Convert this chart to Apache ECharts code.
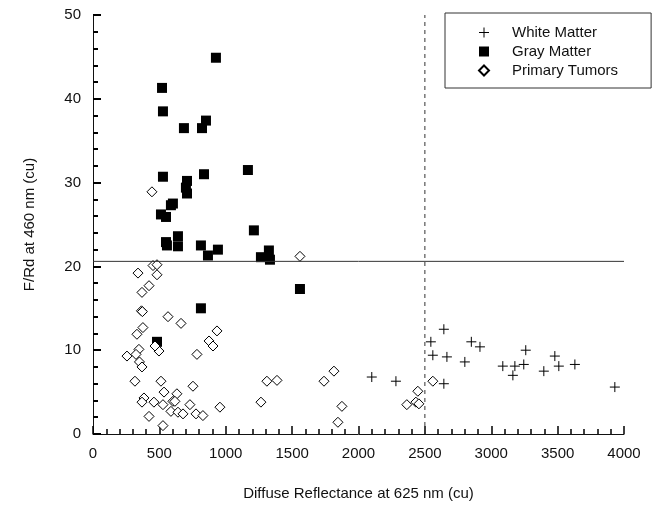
<!DOCTYPE html>
<html>
<head>
<meta charset="utf-8">
<script src="https://cdn.jsdelivr.net/npm/echarts@6/dist/echarts.min.js"></script>
<style>
  html, body { margin: 0; padding: 0; background: #fff; }
  #chart { width: 655px; height: 506px; }
</style>
</head>
<body>
<div id="chart"></div>
<script>
// [diffuse reflectance at 625 nm, F/Rd at 460 nm]
const whiteMatter = [
  [2100, 6.8], [2282, 6.3], [2545, 11.0], [2643, 12.5], [2560, 9.4], [2666, 9.2],
  [2643, 6.0], [2801, 8.6], [2850, 11.0], [2915, 10.4], [3087, 8.1], [3178, 8.1],
  [3163, 7.0], [3245, 8.3], [3260, 10.0], [3396, 7.5], [3479, 9.3], [3509, 8.1],
  [3630, 8.3], [3931, 5.6]
]
const grayMatter = [
  [926, 44.9], [520, 41.3], [527, 38.5], [851, 37.4], [685, 36.5], [821, 36.5],
  [527, 30.7], [708, 30.2], [836, 31.0], [1167, 31.5], [700, 29.4], [708, 28.7],
  [512, 26.2], [550, 25.9], [587, 27.3], [602, 27.5], [550, 22.9], [557, 22.5],
  [640, 23.6], [640, 22.4], [813, 22.5], [866, 21.3], [941, 22.0], [1212, 24.3],
  [1265, 21.1], [1325, 21.9], [1333, 20.8], [813, 15.0], [482, 11.0], [1559, 17.3]
]
const primaryTumors = [
  [444, 28.9], [452, 20.1], [482, 20.2], [1559, 21.2], [339, 19.2], [482, 19.0],
  [422, 17.7], [369, 16.9], [365, 14.7], [372, 14.6], [565, 14.0], [663, 13.2],
  [376, 12.7], [331, 11.9], [934, 12.3], [874, 11.1], [904, 10.5], [346, 10.1],
  [497, 9.9], [467, 10.5], [256, 9.3], [324, 9.5], [350, 8.6], [369, 8.0],
  [783, 9.5], [316, 6.3], [512, 6.3], [753, 5.7], [535, 5.0], [632, 4.8],
  [384, 4.3], [369, 3.8], [459, 3.8], [527, 3.5], [602, 3.9], [617, 3.9],
  [587, 2.7], [640, 2.6], [678, 2.4], [776, 2.4], [828, 2.2], [422, 2.1],
  [527, 1.0], [956, 3.2], [730, 3.5], [1310, 6.3], [1386, 6.4], [1265, 3.8],
  [1815, 7.5], [1740, 6.3], [1875, 3.3], [1845, 1.4], [2447, 5.1], [2364, 3.5],
  [2432, 3.8], [2455, 3.6], [2560, 6.3]
]
const xRange = [0, 4000]
const yRange = [0, 50]
const thresholdY = 20.6
const thresholdX = 2500

const font = 'Liberation Sans, Arial, sans-serif'
const crossPath = 'path://M0,5L10,5M5,0L5,10'

const chart = echarts.init(document.getElementById('chart'))
chart.setOption({
  animation: false,
  grid: { left: 93, right: 31, top: 15, bottom: 71 },
  legend: {
    orient: 'vertical',
    left: 445,
    top: 13,
    padding: [12, 33, 10, 33],
    itemGap: 4,
    itemWidth: 10,
    itemHeight: 10,
    borderColor: '#333',
    borderWidth: 1,
    textStyle: { fontFamily: font, fontSize: 15, color: '#111', padding: [0, 0, 0, 18] },
    data: [
      { name: 'White Matter', icon: crossPath, itemStyle: { color: 'transparent', borderColor: '#000', borderWidth: 1, opacity: 1 } },
      { name: 'Gray Matter', icon: 'rect' },
      { name: 'Primary Tumors', icon: 'diamond' }
    ]
  },
  xAxis: {
    type: 'value',
    min: xRange[0], max: xRange[1], interval: 500,
    name: 'Diffuse Reflectance at 625 nm (cu)',
    nameLocation: 'middle',
    nameGap: 52,
    nameTextStyle: { fontFamily: font, fontSize: 15, color: '#111' },
    axisLine: { show: true, lineStyle: { color: '#111' } },
    axisTick: { show: true, inside: true, length: 8, lineStyle: { color: '#000', width: 1.5 } },
    minorTick: { show: true, splitNumber: 5, length: 5, lineStyle: { color: '#000', width: 1.5 } },
    axisLabel: { fontFamily: font, fontSize: 15, color: '#111', margin: 12, formatter: v => String(v) },
    splitLine: { show: false }
  },
  yAxis: {
    type: 'value',
    min: yRange[0], max: yRange[1], interval: 10,
    name: 'F/Rd at 460 nm (cu)',
    nameLocation: 'middle',
    nameGap: 56,
    nameTextStyle: { fontFamily: font, fontSize: 15, color: '#111' },
    axisLine: { show: true, lineStyle: { color: '#111' } },
    axisTick: { show: true, inside: true, length: 8, lineStyle: { color: '#000', width: 2 } },
    minorTick: { show: true, splitNumber: 5, length: 5, lineStyle: { color: '#000', width: 2 } },
    axisLabel: { fontFamily: font, fontSize: 15, color: '#111', margin: 12 },
    splitLine: { show: false }
  },
  series: [
    {
      name: 'cutoff F/Rd',
      type: 'line',
      silent: true,
      symbol: 'none',
      lineStyle: { color: '#333', width: 1 },
      data: [[xRange[0], thresholdY], [xRange[1], thresholdY]]
    },
    {
      name: 'cutoff Rd',
      type: 'line',
      silent: true,
      symbol: 'none',
      lineStyle: { color: '#333', width: 1, type: [4, 4] },
      data: [[thresholdX, yRange[0]], [thresholdX, yRange[1]]]
    },
    {
      name: 'White Matter',
      type: 'scatter',
      symbol: crossPath,
      symbolSize: 10,
      itemStyle: { color: 'transparent', borderColor: '#000', borderWidth: 1, opacity: 1 },
      data: whiteMatter
    },
    {
      name: 'Gray Matter',
      type: 'scatter',
      symbol: 'rect',
      symbolSize: 10,
      itemStyle: { color: '#000', opacity: 1 },
      data: grayMatter
    },
    {
      name: 'Primary Tumors',
      type: 'scatter',
      symbol: 'diamond',
      symbolSize: [10, 10],
      itemStyle: { color: '#fff', borderColor: '#000', borderWidth: 1, opacity: 1 },
      data: primaryTumors
    }
  ]
})
</script>
</body>
</html>
